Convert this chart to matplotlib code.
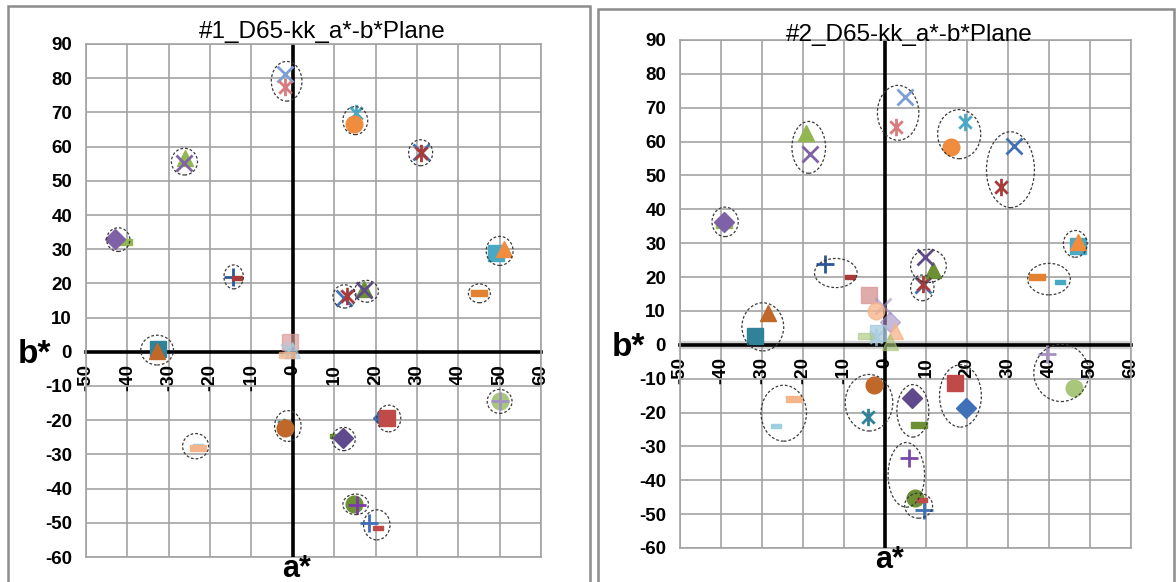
import matplotlib
matplotlib.use('Agg')
import matplotlib.pyplot as plt
from matplotlib.patches import Ellipse, Rectangle
from matplotlib.path import Path

plt.rcParams['font.family'] = ['Liberation Sans', 'DejaVu Sans']
plt.rcParams['axes.unicode_minus'] = False

# colours (Excel-like palette)
LBLUE = '#7E9ED6'
SALMON = '#D77B7C'
CYAN = '#49A9C4'
ORANGE = '#F08C3E'
BLUE = '#3F70B8'
DKRED = '#A83A3A'
GREEN = '#93B552'
PURPLE = '#7E61A6'
DKBLUE = '#2B569A'
TEAL = '#2F8299'
BROWN = '#C0672A'
ORANGE2 = '#E2812F'
PINK = '#D89A9A'
LCYAN = '#9DCFE0'
PEACH = '#F6B48A'
LGREEN = '#A9C77A'
LPURPLE = '#A592C4'
DKGREEN = '#6E9035'
DKPURPLE = '#5E4A8C'
RED = '#C04A47'
LBLUE2 = '#A7CBE0'

# ---------------- chart 1 ----------------
c1_a = [-1.8, -2.0, 15.2, 14.7, 31.0, 31.0, -26.1, -26.2, -40.8, -43.1,
        -14.4, -13.6, 49.0, 51.0, 12.3, 13.0, 17.1, 17.3, 44.9, -32.7,
        -32.8, -0.7, -1.5, -0.2, -1.4, 50.0, 50.0, -2.2, -1.8, 20.6,
        22.8, 10.3, 12.1, -22.9, -22.9, 14.9, 15.4, 18.3, 20.6]
c1_b = [81.3, 77.4, 69.8, 66.7, 58.4, 58.0, 56.8, 55.3, 32.0, 33.0,
        21.9, 21.6, 29.0, 30.0, 15.7, 16.2, 18.3, 18.1, 17.1, 0.8,
        0.3, 3.0, 0.5, 0.5, -0.8, -14.5, -14.5, -22.0, -22.3, -19.5,
        -19.5, -24.6, -25.3, -27.4, -28.2, -44.6, -44.9, -50.0, -51.6]
c1_mark = ['x', 'ast', 'ast', 'o', 'x', 'ast', '^', 'x', 'dash', 'D',
           '+', 'sdash', 's', '^', 'x', 'ast', '^', 'x', 'dash', 's',
           '^', 's', 'ast', '^', 'dash', 'o', '+', 'ast', 'o', 'sD',
           's', 'sdash', 'D', 'sdash', 'dash', 'o', '+', '+', 'sdash']
c1_col = [LBLUE, SALMON, CYAN, ORANGE, BLUE, DKRED, GREEN, PURPLE, GREEN, PURPLE,
          DKBLUE, DKRED, CYAN, ORANGE, BLUE, DKRED, DKGREEN, DKPURPLE, ORANGE2, TEAL,
          BROWN, PINK + 'B0', LBLUE2 + 'B0', LBLUE2 + 'B0', PEACH + 'B0', LGREEN, LPURPLE, TEAL, BROWN, BLUE,
          RED, DKGREEN, DKPURPLE, LCYAN, PEACH, DKGREEN, '#7A3AA8', BLUE, RED]
# ellipse centre a, centre b, width, height
c1_ell_a = [-1.5, 15.1, 30.9, -26.2, -42.2, -14.3, 50.0, 12.5, 17.8, 45.1,
            -32.8, 50.0, -1.2, 23.2, 12.3, -23.5, 15.2, 20.3]
c1_ell_b = [79.1, 67.6, 58.2, 55.6, 32.8, 21.9, 29.5, 16.2, 17.7, 17.1,
            0.5, -14.5, -21.7, -19.5, -25.5, -27.6, -44.6, -50.6]
c1_ell_w = [7.4, 6.0, 5.8, 6.3, 5.6, 4.7, 6.5, 5.6, 5.8, 5.3,
            7.9, 6.0, 6.4, 5.8, 5.6, 6.3, 6.2, 6.4]
c1_ell_h = [11.6, 8.2, 7.6, 7.8, 6.9, 7.0, 8.5, 6.8, 6.4, 5.5,
            8.7, 7.0, 9.0, 7.8, 6.8, 7.4, 6.0, 8.8]

# ---------------- chart 2 ----------------
c2_a = [4.8, 2.7, 19.4, 16.1, 31.4, 28.3, -19.2, -18.2, -39.3, -39.3,
        -14.6, -8.5, 47.1, 47.0, 9.3, 9.3, 11.7, 9.7, 37.1, 42.6,
        -31.8, -28.5, -3.8, -0.6, -2.2, 1.3, 2.5, -1.8, -4.6, -2.2,
        1.3, 39.6, 46.0, -4.2, -2.7, 19.7, 17.0, 8.2, 6.5, -26.6,
        -22.3, 7.4, 5.8, 9.4, 9.1]
c2_b = [73.1, 64.3, 65.8, 58.3, 58.7, 46.5, 62.5, 56.3, 35.5, 36.3,
        23.8, 20.0, 29.3, 30.5, 17.8, 18.0, 22.2, 25.9, 20.0, 18.4,
        2.6, 9.5, 14.7, 11.5, 10.0, 6.6, 4.1, 3.6, 2.6, 2.2,
        0.7, -2.7, -12.7, -21.2, -11.9, -18.8, -11.4, -23.6, -15.6, -24.0,
        -16.1, -45.2, -33.5, -48.9, -45.9]
c2_mark = ['x', 'ast', 'ast', 'o', 'x', 'ast', '^', 'x', 'dash', 'D',
           '+', 'sdash', 's', '^', 'x', 'ast', '^', 'x', 'dash', 'sdash',
           's', '^', 's', 'x', 'o', 'D', '^', 's', 'dash', 'ast',
           '^', '+', 'o', 'ast', 'o', 'D', 's', 'dash', 'D', 'sdash',
           'dash', 'o', '+', '+', 'sdash']
c2_col = [LBLUE, SALMON, CYAN, ORANGE, BLUE, DKRED, GREEN, PURPLE, GREEN, PURPLE,
          DKBLUE, DKRED, CYAN, ORANGE, BLUE, DKRED, DKGREEN, DKPURPLE, ORANGE2, CYAN,
          TEAL, BROWN, PINK + 'D0', LPURPLE + 'A0', PEACH + 'C0', LPURPLE + 'A0', PEACH + 'C0',
          LBLUE2 + 'C0', LGREEN + 'A0', LBLUE2 + 'C0',
          LGREEN + 'A0', LPURPLE, LGREEN, TEAL, BROWN, BLUE, RED, DKGREEN, DKPURPLE, LCYAN,
          PEACH, DKGREEN, '#7A4AA8', BLUE, RED]
c2_ell_a = [3.2, 18.1, 30.6, -18.6, -39.0, -12.0, 46.4, 10.6, 9.1, 40.0,
            -29.8, 43.0, -24.7, -3.9, 6.8, 18.4, 5.2, 8.2]
c2_ell_b = [68.5, 62.2, 51.7, 58.3, 36.3, 21.2, 29.8, 23.3, 16.8, 19.4,
            5.3, -8.3, -20.2, -17.1, -19.5, -15.1, -38.4, -47.5]
c2_ell_w = [10.1, 10.5, 11.7, 8.2, 6.4, 10.4, 5.8, 8.7, 5.7, 10.4,
            10.2, 13.4, 11.1, 11.6, 7.8, 10.2, 8.9, 6.8]
c2_ell_h = [16.2, 14.5, 22.4, 15.3, 8.7, 8.6, 7.9, 9.8, 7.6, 9.3,
            14.2, 16.9, 16.5, 16.7, 15.5, 18.4, 19.1, 7.4]

a_ticks = list(range(-50, 61, 10))
b_ticks = list(range(-60, 91, 10))

# marker shapes
ast_path = Path([(0, -1), (0, 1), (-0.72, -0.72), (0.72, 0.72), (-0.72, 0.72), (0.72, -0.72)],
                [Path.MOVETO, Path.LINETO, Path.MOVETO, Path.LINETO, Path.MOVETO, Path.LINETO])
dash_path = [(-1, -0.32), (1, -0.32), (1, 0.32), (-1, 0.32), (-1, -0.32)]
mk_style = {
    'x': dict(marker='x', ms=11.5, mew=2.0),
    'ast': dict(marker=ast_path, ms=12.5, mew=2.0),
    '+': dict(marker='+', ms=12.5, mew=2.0),
    'o': dict(marker='o', ms=12),
    's': dict(marker='s', ms=11.5),
    '^': dict(marker='^', ms=12),
    'D': dict(marker='D', ms=10),
    'sD': dict(marker='D', ms=5),
    'dash': dict(marker=dash_path, ms=11.5),
    'sdash': dict(marker=dash_path, ms=7.5),
}


def draw_chart(ax, title, tx, xs, ys, marks, cols, ea, eb, ew, eh, shadow):
    ax.set_xlim(-50, 60)
    ax.set_ylim(-60, 90)
    ax.set_xticks(a_ticks)
    ax.set_yticks(b_ticks)
    ax.grid(True, color='#A3A3A3', lw=1.2, zorder=0)
    ax.set_axisbelow(True)
    for s in ['left', 'right', 'top']:
        ax.spines[s].set_color('#A3A3A3')
        ax.spines[s].set_linewidth(1.2)
    ax.spines['bottom'].set_position(('data', 0))
    ax.spines['bottom'].set_color('black')
    ax.spines['bottom'].set_linewidth(2.6)
    ax.spines['bottom'].set_zorder(1.5)
    ax.axhline(-60, color='#A3A3A3', lw=1.2, clip_on=False, zorder=0.5)
    if shadow:
        ax.axhline(0, color='#9A9A9A', lw=6, alpha=0.45, zorder=1)
    ax.axvline(0, color='black', lw=2.6, zorder=1.5)
    ax.tick_params(axis='both', length=0, labelsize=13.5)
    ax.tick_params(axis='x', pad=9, labelrotation=90)
    ax.tick_params(axis='y', pad=10)
    for lab in ax.get_xticklabels() + ax.get_yticklabels():
        lab.set_fontweight('bold')

    for a, b, m, c in zip(xs, ys, marks, cols):
        ax.plot([a], [b], ls='none', color=c, mec=c, mfc=c, zorder=3, **mk_style[m])
    for a, b, w, h in zip(ea, eb, ew, eh):
        ax.add_patch(Ellipse((a, b), w, h, fill=False, ec='#3A3A3A', lw=0.9,
                             ls=(0, (2.2, 1.6)), zorder=4))

    ax.annotate('b*', xy=(-50, 0), xytext=(-37, -2), textcoords='offset points',
                ha='center', va='center', fontsize=24, fontweight='bold',
                family=['Liberation Sans Narrow', 'Liberation Sans'])
    ax.annotate('a*', xy=(0, -60), xytext=(3, 2), textcoords='offset points',
                ha='center', va='top', fontsize=22, fontweight='bold',
                family=['Liberation Sans Narrow', 'Liberation Sans'], annotation_clip=False)
    ax.figure.text(tx[0], tx[1], title, ha='center', va='center', fontsize=17.5)


fig = plt.figure(figsize=(11.76, 5.82), dpi=100)
fig.patches.append(Rectangle((8 / 1176, -0.1), 582 / 1176, 1.1 - 6 / 582, transform=fig.transFigure,
                             fill=False, ec='#8C8C8C', lw=1.8))
fig.patches.append(Rectangle((598 / 1176, -0.1), 576 / 1176, 1.1 - 9 / 582, transform=fig.transFigure,
                             fill=False, ec='#8C8C8C', lw=1.8))

ax1 = fig.add_axes([86 / 1176, 1 - 557 / 582, 455 / 1176, 513 / 582])
ax2 = fig.add_axes([680 / 1176, 1 - 548 / 582, 451 / 1176, 508 / 582])

draw_chart(ax1, '#1_D65-kk_a*-b*Plane', (322 / 1176, 1 - 32 / 582),
           c1_a, c1_b, c1_mark, c1_col, c1_ell_a, c1_ell_b, c1_ell_w, c1_ell_h, False)
draw_chart(ax2, '#2_D65-kk_a*-b*Plane', (909 / 1176, 1 - 35 / 582),
           c2_a, c2_b, c2_mark, c2_col, c2_ell_a, c2_ell_b, c2_ell_w, c2_ell_h, True)

fig.savefig('out.png', dpi=100)
